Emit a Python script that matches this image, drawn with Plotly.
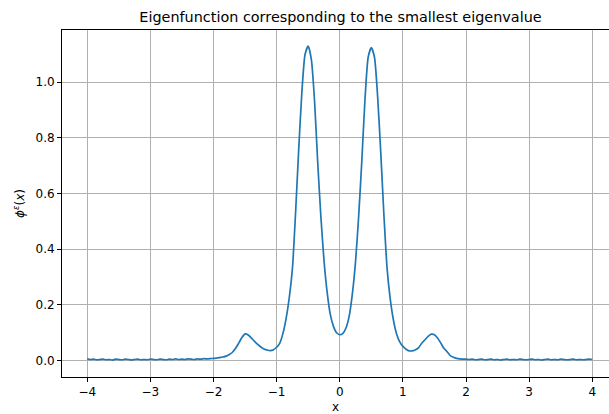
import numpy as np
import plotly.graph_objects as go

# Grid of evaluation points: -4 to 4 in steps of 0.05
x_vals = [round(-4 + 0.05 * i, 2) for i in range(161)]

# Eigenfunction samples, left tail (-4.00 .. -2.05)
phi_left_tail = [
    0.005, 0.003, 0.004, 0.002, 0.003, 0.004, 0.002, 0.003, 0.001, 0.004,
    0.003, 0.002, 0.004, 0.003, 0.001, 0.003, 0.004, 0.002, 0.003, 0.002,
    0.004, 0.003, 0.002, 0.004, 0.003, 0.002, 0.004, 0.003, 0.005, 0.003,
    0.004, 0.003, 0.005, 0.004, 0.003, 0.005, 0.004, 0.006, 0.005, 0.006,
]

# Central part (-2.00 .. 2.00)
phi_center = [
    0.007, 0.008, 0.010, 0.012, 0.015, 0.021, 0.029, 0.043, 0.062, 0.082,
    0.095, 0.091, 0.080, 0.068, 0.057, 0.048, 0.041, 0.037, 0.035, 0.038,
    0.047, 0.062, 0.097, 0.150, 0.225, 0.330, 0.530, 0.760, 0.965, 1.100,
    1.130, 1.082, 0.935, 0.715, 0.520, 0.360, 0.245, 0.165, 0.122, 0.099,
    0.092,
    0.097, 0.117, 0.160, 0.240, 0.355, 0.520, 0.720, 0.940, 1.090, 1.125,
    1.090, 0.948, 0.745, 0.520, 0.330, 0.220, 0.145, 0.095, 0.066, 0.050,
    0.040, 0.034, 0.034, 0.038, 0.046, 0.062, 0.074, 0.086, 0.094, 0.092,
    0.080, 0.062, 0.043, 0.031, 0.017, 0.011, 0.007, 0.005, 0.004, 0.004,
]

# Right tail (2.05 .. 4.00)
phi_right_tail = [
    0.003, 0.004, 0.002, 0.003, 0.004, 0.002, 0.003, 0.004, 0.002, 0.003,
    0.001, 0.003, 0.004, 0.002, 0.003, 0.002, 0.004, 0.003, 0.002, 0.003,
    0.004, 0.002, 0.003, 0.001, 0.003, 0.004, 0.002, 0.003, 0.002, 0.004,
    0.003, 0.002, 0.003, 0.004, 0.002, 0.003, 0.002, 0.003, 0.004, 0.003,
]

phi_vals = phi_left_tail + phi_center + phi_right_tail

x_ticks = [-4, -3, -2, -1, 0, 1, 2, 3, 4]
y_ticks = [0.0, 0.2, 0.4, 0.6, 0.8, 1.0]

FONT = "DejaVu Sans"
W, H = 609, 414
ML, MT, MB = 62, 30, 37

fig = go.Figure()
fig.add_trace(go.Scatter(
    x=x_vals, y=phi_vals, mode="lines",
    line=dict(color="#1f77b4", width=1.7, shape="spline", smoothing=0.6),
    showlegend=False,
))

axis_common = dict(
    showgrid=True, gridcolor="#b0b0b0", gridwidth=0.8,
    zeroline=False,
    showline=True, linecolor="black", linewidth=1,
    ticks="outside", ticklen=4, tickwidth=1, tickcolor="black",
    tickfont=dict(family=FONT, size=12, color="black"),
)

fig.update_layout(
    width=W, height=H,
    margin=dict(l=ML, r=0, t=MT, b=MB),
    paper_bgcolor="white", plot_bgcolor="white",
    font=dict(family=FONT, color="black"),
    title=dict(
        text="Eigenfunction corresponding to the smallest eigenvalue",
        font=dict(family=FONT, size=14.4, color="black"),
        x=340.5 / W, xref="container", xanchor="center",
        y=1 - 16.5 / H, yref="container", yanchor="middle",
    ),
    xaxis=dict(
        **axis_common,
        range=[-4.4, 4.265], tickvals=x_ticks,
        mirror=True,
        title=dict(text="x", font=dict(family=FONT, size=12), standoff=6),
    ),
    yaxis=dict(
        **axis_common,
        range=[-0.0600, 1.188], tickvals=y_ticks, tickformat=".1f",
        title=dict(text="<i>ϕ</i><sup><i>ε</i></sup>(<i>x</i>)",
                   font=dict(family=FONT, size=12), standoff=8),
    ),
)

fig.write_html("out.html")
